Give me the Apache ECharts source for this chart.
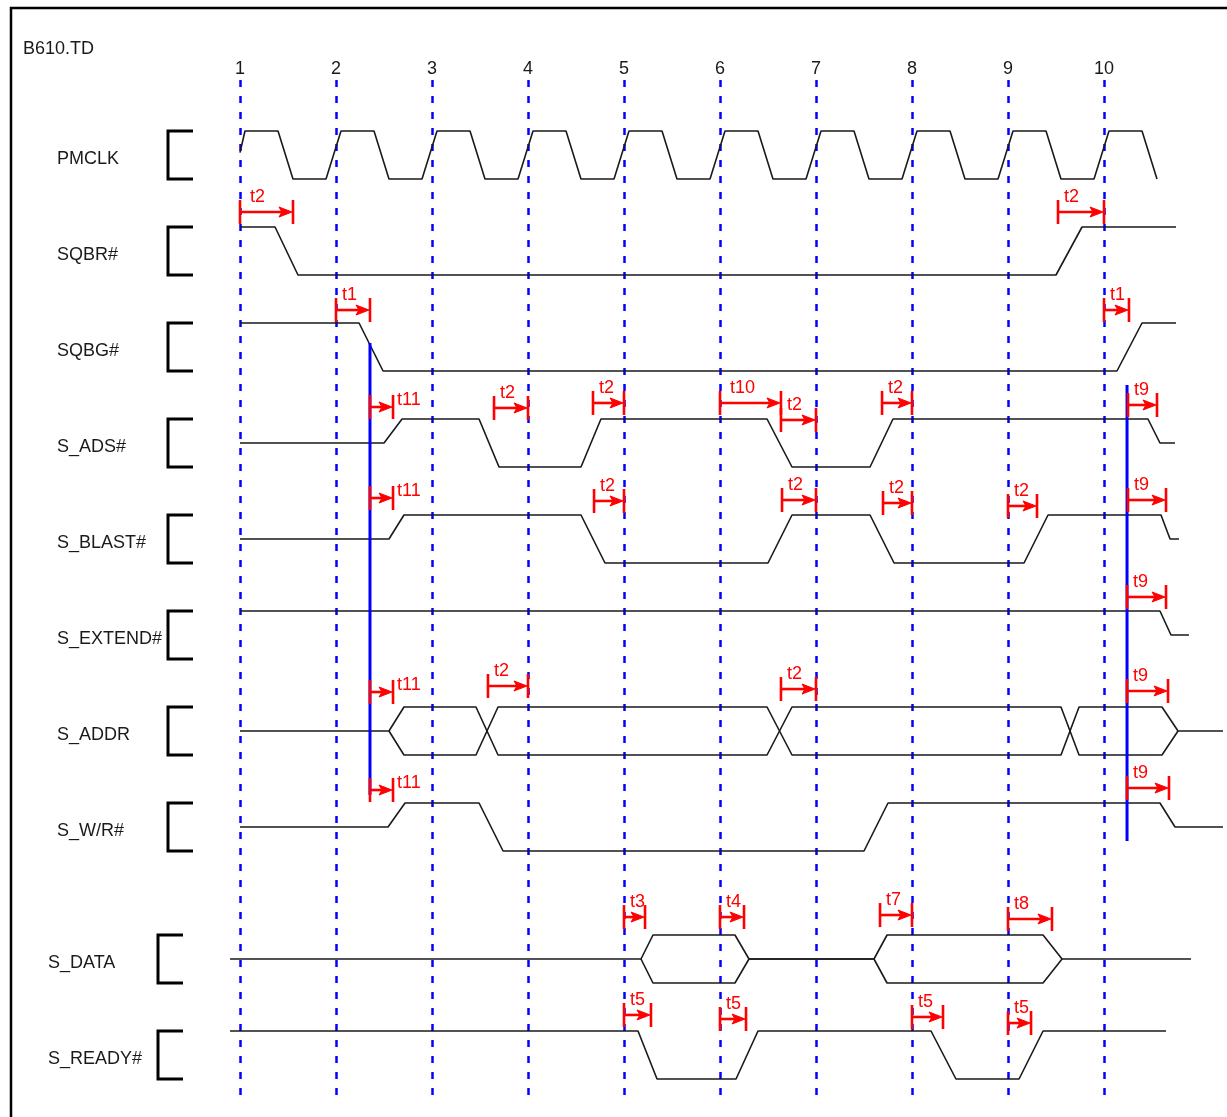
<!DOCTYPE html>
<html>
<head>
<meta charset="utf-8">
<script src="https://cdn.jsdelivr.net/npm/echarts@6/dist/echarts.min.js"></script>
<style>
html,body{margin:0;padding:0;background:#fff;}
#chart{width:1227px;height:1117px;}
</style>
</head>
<body>
<div id="chart"></div>
<script>
// ---------- data ----------
const tickLabels = ['1','2','3','4','5','6','7','8','9','10'];
const signalNames = ['PMCLK','SQBR#','SQBG#','S_ADS#','S_BLAST#','S_EXTEND#','S_ADDR','S_W/R#','S_DATA','S_READY#'];
const signalRows = [0,1,2,3,4,5,6,7,8.375,9.375];

// waveforms: [time (clock units), level] level 1 = high, 0 = low, 0.5 = float / mid
const pmclk = [[1.000,0.55],[1.052,1],[1.396,1],[1.552,0],[1.896,0],[2.052,1],[2.396,1],[2.552,0],[2.896,0],[3.052,1],[3.396,1],[3.552,0],[3.896,0],[4.052,1],[4.396,1],[4.552,0],[4.896,0],[5.052,1],[5.396,1],[5.552,0],[5.896,0],[6.052,1],[6.396,1],[6.552,0],[6.896,0],[7.052,1],[7.396,1],[7.552,0],[7.896,0],[8.052,1],[8.396,1],[8.552,0],[8.896,0],[9.052,1],[9.396,1],[9.552,0],[9.896,0],[10.052,1],[10.396,1],[10.552,0]];
const sqbr = [[1,1],[1.365,1],[1.604,0],[9.5,0],[9.771,1],[10.75,1]];
const sqbg = [[1,1],[2.240,1],[2.490,0],[10.135,0],[10.396,1],[10.75,1]];
const sads = [[1,0.5],[2.5,0.5],[2.688,1],[3.490,1],[3.698,0],[4.552,0],[4.760,1],[6.490,1],[6.750,0],[7.563,0],[7.802,1],[10.458,1],[10.583,0.5],[10.740,0.5]];
const sblast = [[1,0.5],[2.552,0.5],[2.708,1],[4.552,1],[4.802,0],[6.5,0],[6.75,1],[7.563,1],[7.813,0],[9.167,0],[9.417,1],[10.594,1],[10.688,0.5],[10.781,0.5]];
const sextend = [[1,1],[10.583,1],[10.698,0.5],[10.885,0.5]];
const saddrA = [[1,0.5],[2.552,0.5],[2.708,1],[3.458,1],[3.688,0],[6.490,0],[6.75,1],[9.552,1],[9.740,0],[10.604,0],[10.771,0.5],[11.240,0.5]];
const saddrB = [[2.552,0.5],[2.708,0],[3.458,0],[3.688,1],[6.490,1],[6.75,0],[9.552,0],[9.740,1],[10.604,1],[10.771,0.5]];
const swr = [[1,0.5],[2.542,0.5],[2.719,1],[3.490,1],[3.740,0],[7.5,0],[7.75,1],[10.583,1],[10.740,0.5],[11.240,0.5]];
const sdataA = [[0.896,0.5],[5.177,0.5],[5.302,1],[6.156,1],[6.302,0.5],[7.604,0.5],[7.740,1],[9.365,1],[9.563,0.5],[10.906,0.5]];
const sdataB = [[5.177,0.5],[5.302,0],[6.156,0],[6.302,0.5],[7.604,0.5],[7.740,0],[9.365,0],[9.563,0.5]];
const sready = [[0.896,1],[5.146,1],[5.344,0],[6.167,0],[6.396,1],[8.198,1],[8.458,0],[9.115,0],[9.365,1],[10.646,1]];

// blue markers: [time, fromRow, toRow]
const blueMarkers = [[2.354,2.208,6.917],[10.240,2.646,7.396]];

// timing annotations
const annLabels = ['t2','t2','t1','t1','t11','t2','t2','t10','t2','t2','t9','t11','t2','t2','t2','t2','t9','t9','t11','t2','t2','t9','t11','t9','t3','t4','t7','t8','t5','t5','t5','t5'];
const annStart = [1.0,9.521,2.0,10.0,2.354,3.646,4.677,6.0,6.635,7.688,10.250,2.354,4.688,6.646,7.698,9.0,10.250,10.240,2.354,3.583,6.635,10.240,2.354,10.240,5.0,6.0,7.667,9.0,5.0,6.0,8.0,9.0];
const annEnd = [1.552,10.0,2.354,10.260,2.594,4.0,5.0,6.635,7.0,8.0,10.552,2.594,5.0,7.0,8.0,9.302,10.646,10.646,2.594,4.0,7.0,10.667,2.594,10.677,5.219,6.25,8.0,9.458,5.281,6.271,8.323,9.240];
const annRow = [0.844,0.844,1.865,1.865,2.875,2.885,2.833,2.833,3.010,2.833,2.854,3.823,3.854,3.844,3.875,3.906,3.844,4.854,5.844,5.781,5.813,5.833,6.865,6.844,8.188,8.188,8.167,8.208,9.208,9.250,9.229,9.292];

// ---------- build ----------
const FONT = '18px "Liberation Sans", Arial, sans-serif';
const traces = [
  [0, pmclk],[1, sqbr],[2, sqbg],[3, sads],[4, sblast],[5, sextend],
  [6, saddrA],[6, saddrB],[7, swr],[8.375, sdataA],[8.375, sdataB],[9.375, sready]
];
const toY = (row, lvl) => row + (1 - lvl) * 0.5;

const series = [];
traces.forEach(([row, pts]) => {
  series.push({
    type: 'line', xAxisIndex: 0, yAxisIndex: 0, z: 3,
    showSymbol: false, silent: true,
    data: pts.map(p => [p[0], toY(row, p[1])]),
    lineStyle: { color: '#1a1a1a', width: 1.6 }
  });
});
blueMarkers.forEach(m => {
  series.push({
    type: 'line', xAxisIndex: 0, yAxisIndex: 0, z: 4,
    showSymbol: false, silent: true,
    data: [[m[0], m[1]], [m[0], m[2]]],
    lineStyle: { color: '#0000ff', width: 3 }
  });
});

// signal names + brackets
series.push({
  type: 'custom', xAxisIndex: 0, yAxisIndex: 0, z: 5, silent: true,
  data: signalNames.map((n, i) => [i, signalRows[i]]),
  encode: { x: 0, y: 1 },
  renderItem: function (params, api) {
    const i = api.value(0);
    const row = api.value(1);
    const top = api.coord([0, row])[1];
    const bot = api.coord([0, row + 0.5])[1];
    const nameX = i >= 8 ? 48 : 57;
    const bx = i >= 8 ? 158 : 168;
    return {
      type: 'group',
      children: [
        { type: 'text', style: { text: signalNames[i], x: nameX, y: (top + bot) / 2 + 4, font: FONT, fill: '#1a1a1a', align: 'left', verticalAlign: 'middle' } },
        { type: 'polyline', shape: { points: [[bx + 25, top], [bx, top], [bx, bot], [bx + 25, bot]] }, style: { stroke: '#000', lineWidth: 3, fill: null } }
      ]
    };
  }
});

// annotations
series.push({
  type: 'custom', xAxisIndex: 0, yAxisIndex: 0, z: 6, silent: true,
  data: annLabels.map((l, i) => [annStart[i], annEnd[i], annRow[i], i]),
  encode: { x: [0, 1], y: 2 },
  renderItem: function (params, api) {
    const s = api.coord([api.value(0), api.value(2)]);
    const e = api.coord([api.value(1), api.value(2)]);
    const lab = annLabels[api.value(3)];
    const y = s[1];
    const red = '#ff0000';
    const right = lab === 't11';
    const long = (e[0] - s[0]) > 50;
    return {
      type: 'group',
      children: [
        { type: 'line', shape: { x1: s[0], y1: y, x2: e[0] - 8, y2: y }, style: { stroke: red, lineWidth: 2.6 } },
        { type: 'line', shape: { x1: s[0], y1: y - 12, x2: s[0], y2: y + 12 }, style: { stroke: red, lineWidth: 2.6 } },
        { type: 'line', shape: { x1: e[0], y1: y - 12, x2: e[0], y2: y + 12 }, style: { stroke: red, lineWidth: 2.6 } },
        { type: 'polygon', shape: { points: [[e[0] - 1, y], [e[0] - 14, y - 5], [e[0] - 11, y], [e[0] - 14, y + 5]] }, style: { fill: red, stroke: red, lineWidth: 1 } },
        { type: 'text', style: { text: lab, x: right ? e[0] + 4 : s[0] + (long ? 10 : 6), y: right ? y - 7 : y - 15, font: FONT, fill: red, align: 'left', verticalAlign: 'middle' } }
      ]
    };
  }
});

const chart = echarts.init(document.getElementById('chart'), null, { renderer: 'canvas' });
chart.setOption({
  animation: false,
  backgroundColor: '#fff',
  grid: [
    { left: 0, right: 0, top: 0, bottom: 0 },
    { left: 240, right: 123, top: 80, bottom: 20 }
  ],
  xAxis: [
    { type: 'value', gridIndex: 0, min: -1.5, max: 11.28125, show: false },
    {
      type: 'value', gridIndex: 1, min: 1, max: 10, interval: 1, position: 'top',
      axisLine: { show: false }, axisTick: { show: false },
      axisLabel: { margin: 2, fontSize: 18, color: '#1a1a1a', fontFamily: '"Liberation Sans", Arial, sans-serif', formatter: v => tickLabels[Math.round(v) - 1] || '' },
      splitLine: { show: true, lineStyle: { color: '#0000ff', width: 2.5, type: [7, 9] } }
    }
  ],
  yAxis: [
    { type: 'value', gridIndex: 0, min: -1.364583, max: 10.270833, inverse: true, show: false },
    { type: 'value', gridIndex: 1, min: 0, max: 1, show: false, splitLine: { show: false } }
  ],
  graphic: [
    { type: 'rect', z: 1, shape: { x: 11, y: 8, width: 1240, height: 1140 }, style: { fill: null, stroke: '#000', lineWidth: 2.5 } },
    { type: 'text', z: 10, style: { text: 'B610.TD', x: 23, y: 49, font: FONT, fill: '#1a1a1a', align: 'left', verticalAlign: 'middle' } }
  ],
  series: series
});
</script>
</body>
</html>
